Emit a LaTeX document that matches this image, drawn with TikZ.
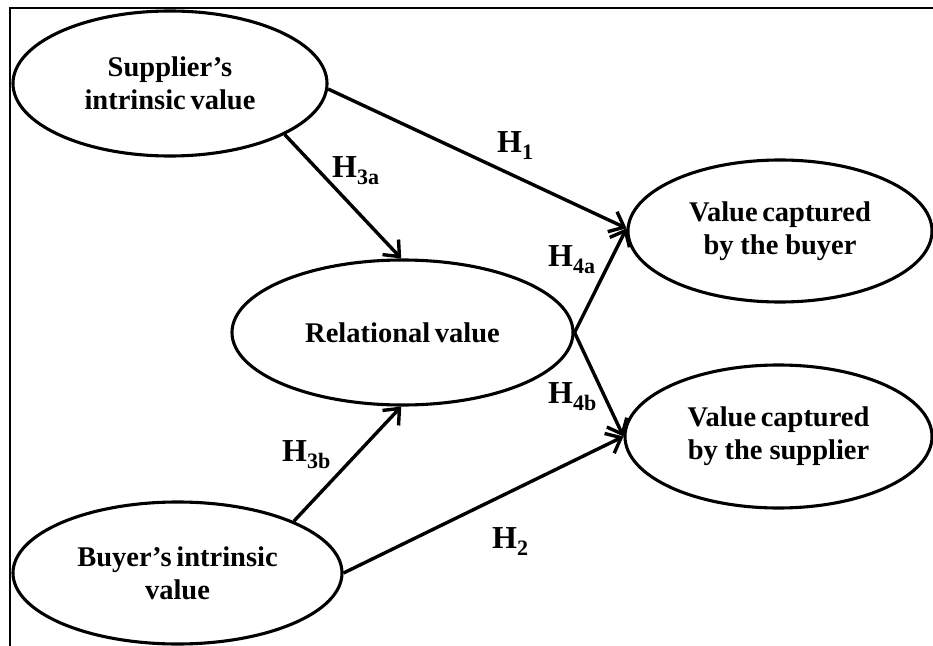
\documentclass[tikz,border=0pt]{standalone}
\usepackage{fontspec}
\setmainfont{Liberation Serif}[WordSpace=0.65]
\usetikzlibrary{arrows.meta,shapes.geometric}
% lowered subscript for the hypothesis labels
\newcommand\hsub[1]{\raisebox{-7bp}{\fontsize{22.1}{22.1}\selectfont #1}}
% ordinary-width word space
\newcommand\wsp{\hspace{0.24em}}
\begin{document}
\begin{tikzpicture}[x=1bp,y=-1bp,
  construct/.style={ellipse,draw,line width=3.1bp,inner sep=0pt,align=center,
    font=\fontsize{28.6}{33.1}\selectfont\bfseries},
  link/.style={line width=3.4bp,-{Straight Barb[length=13bp,width=22bp]}},
  hyp/.style={anchor=base west,inner sep=0pt,
    font=\fontsize{32.1}{32.1}\selectfont\bfseries},
  frameline/.style={line width=2.3bp}]
\useasboundingbox (0,0) rectangle (933,646);

% partial frame: top and left edges
\coordinate (fbl) at (10,646);
\coordinate (ftl) at (10,8);
\coordinate (ftr) at (933,8);
\draw[frameline] (fbl) -- (ftl) -- (ftr);

% constructs
\node[construct,minimum width=314bp,minimum height=145bp] (S) at (170,83.5)
  {Supplier’s\\intrinsic value};
\node[construct,minimum width=341bp,minimum height=145bp] (R) at (402.5,332.5)
  {Relational value};
\node[construct,minimum width=329bp,minimum height=142bp] (B) at (177.5,573)
  {Buyer’s intrinsic\\value};
\node[construct,minimum width=304bp,minimum height=142bp] (VB) at (780,231)
  {Value captured\\by\wsp the\wsp buyer};
\node[construct,minimum width=307bp,minimum height=143bp] (VS) at (778.5,436.5)
  {Value captured\\by\wsp the\wsp supplier};

% hypothesised paths
\draw[link] (S.-24) -- (R.91);
\draw[link] (S.-2) -- (VB.179);
\draw[link] (R.east) -- (VB.179);
\draw[link] (R.east) -- (VS.west);
\draw[link] (B.24) -- (R.269);
\draw[link] (B.east) -- (VS.west);

% path labels
\node[hyp] (h1)  at (497,153) {H\hsub{1}};
\node[hyp] (h3a) at (332,178) {H\hsub{3a}};
\node[hyp] (h4a) at (548,267) {H\hsub{4a}};
\node[hyp] (h4b) at (548,403) {H\hsub{4b}};
\node[hyp] (h3b) at (282,461) {H\hsub{3b}};
\node[hyp] (h2)  at (492,548) {H\hsub{2}};
\end{tikzpicture}
\end{document}
